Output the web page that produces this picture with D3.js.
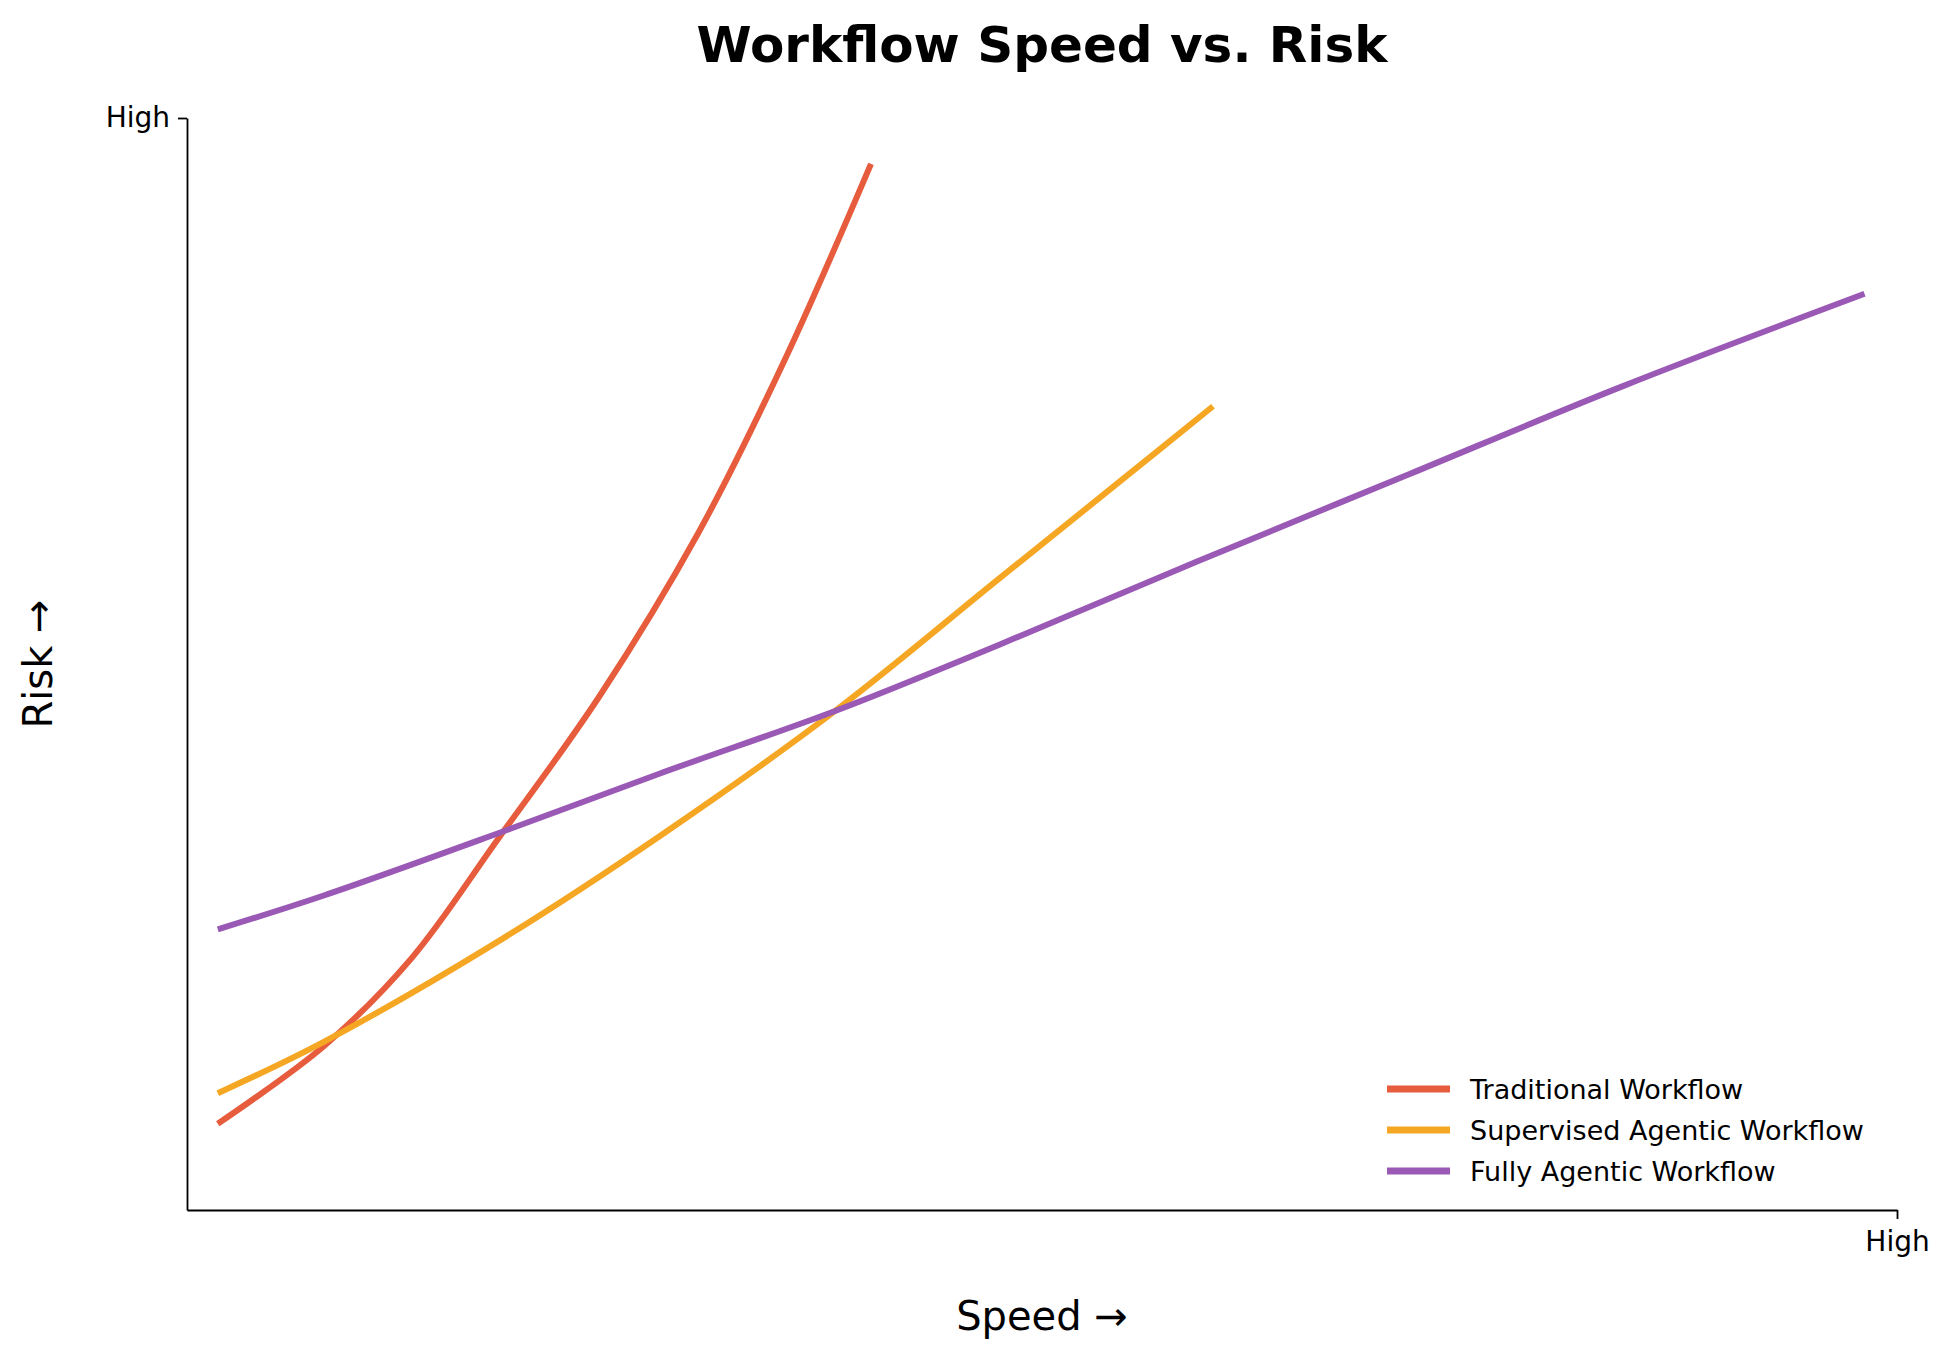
<!DOCTYPE html>
<html><head><meta charset="utf-8">
<script src="https://cdn.jsdelivr.net/npm/d3@7"></script>
<style>body{margin:0;background:#fff}text{font-family:"DejaVu Sans",sans-serif}</style>
</head><body><svg id="c" width="1956" height="1355"></svg>
<script>
var seriesNames = ["Traditional Workflow", "Supervised Agentic Workflow", "Fully Agentic Workflow"];
var seriesColors = ["#e65c3c", "#f5a623", "#9b59b6"];
var tradX = [0.018, 0.080, 0.131, 0.182, 0.241, 0.299, 0.350, 0.400];
var tradY = [0.079, 0.150, 0.230, 0.340, 0.470, 0.620, 0.780, 0.958];
var supX = [0.018, 0.080, 0.182, 0.277, 0.379, 0.474, 0.547, 0.600];
var supY = [0.107, 0.154, 0.246, 0.343, 0.457, 0.577, 0.669, 0.736];
var fullX = [0.018, 0.080, 0.182, 0.277, 0.379, 0.474, 0.591, 0.715, 0.839, 0.981];
var fullY = [0.257, 0.288, 0.345, 0.400, 0.457, 0.517, 0.594, 0.674, 0.754, 0.839];
var tickLabel = "High";

var svg = d3.select("#c");
var L = 187, R = 1897, T = 118, B = 1210;
var x = d3.scaleLinear().domain([0, 1]).range([L, R]);
var y = d3.scaleLinear().domain([0, 1]).range([B, T]);

function styleAxis(g){
    g.selectAll("text").style("font-size", "28px").attr("fill", "#000");
    g.selectAll("path,line").attr("stroke", "#000").attr("stroke-width", 1.8);
}
svg.append("g").attr("transform", "translate(0," + B + ")")
    .call(d3.axisBottom(x).tickValues([1]).tickFormat(function(){ return tickLabel; }).tickSize(9).tickSizeOuter(0).tickPadding(12))
    .call(styleAxis);
svg.append("g").attr("transform", "translate(" + L + ",0)")
    .call(d3.axisLeft(y).tickValues([1]).tickFormat(function(){ return tickLabel; }).tickSize(9).tickSizeOuter(0).tickPadding(8))
    .call(styleAxis);

var data = [[tradX, tradY], [supX, supY], [fullX, fullY]];
var line = d3.line().x(function(d){ return x(d[0]); }).y(function(d){ return y(d[1]); }).curve(d3.curveCatmullRom.alpha(0.5));
data.forEach(function(s, i){
    svg.append("path")
        .datum(d3.zip(s[0], s[1]))
        .attr("d", line)
        .attr("fill", "none")
        .attr("stroke", seriesColors[i])
        .attr("stroke-width", 6);
});

svg.append("text").attr("x", (L + R) / 2).attr("y", 62).attr("text-anchor", "middle")
    .style("font-size", "50px").style("font-weight", "bold").text("Workflow Speed vs. Risk");
svg.append("text").attr("x", (L + R) / 2).attr("y", 1330).attr("text-anchor", "middle")
    .style("font-size", "40px").text("Speed →");
svg.append("text").attr("transform", "translate(52," + (T + B) / 2 + ") rotate(-90)").attr("text-anchor", "middle")
    .style("font-size", "40px").text("Risk →");

var legend = svg.append("g");
seriesNames.forEach(function(n, i){
    var yy = 1089 + i * 41;
    legend.append("line").attr("x1", 1387).attr("x2", 1450).attr("y1", yy).attr("y2", yy)
        .attr("stroke", seriesColors[i]).attr("stroke-width", 7);
    legend.append("text").attr("x", 1470).attr("y", yy + 10).style("font-size", "27px").text(n);
});
</script></body></html>
